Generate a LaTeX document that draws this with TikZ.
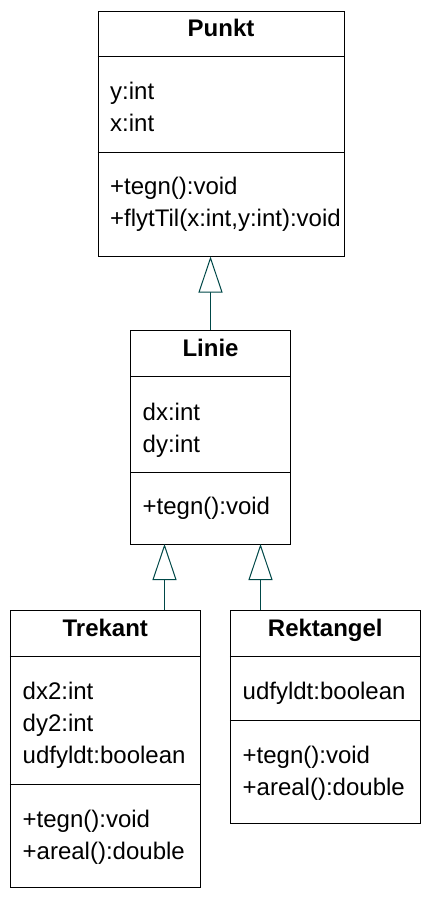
\documentclass[tikz,border=0pt]{standalone}
\usepackage{fontspec}
\setmainfont{Liberation Sans}
\usetikzlibrary{arrows.meta}
\definecolor{conn}{RGB}{0,72,72}
\begin{document}
\begin{tikzpicture}[x=1pt,y=-1pt,
  classbox/.style={draw=black, line width=1pt, inner sep=0pt},
  sepline/.style={draw=black, line width=1pt},
  title/.style={anchor=base, inner sep=0pt, font=\fontsize{24}{28}\selectfont\bfseries},
  member/.style={anchor=base west, inner sep=0pt, font=\fontsize{24}{28}\selectfont},
  inh/.style={draw=conn, line width=1pt, -{Triangle[open, length=36pt, width=24pt, fill=white]}}
]
\useasboundingbox (0,0) rectangle (432,900);
% Punkt
\node[classbox, minimum width=246pt, minimum height=245pt] (punkt) at (221,133.5) {};
\draw[sepline] (punkt.west |- 0,56) -- (punkt.east |- 0,56);
\draw[sepline] (punkt.west |- 0,152) -- (punkt.east |- 0,152);
\node[title] (punkttitle) at (221,36) {Punkt};
\node[member] (py) at (110,99) {y:int};
\node[member] (px) at (110,131) {x:int};
\node[member] (ptegn) at (110,194) {+tegn():void};
\node[member] (pflyt) at (110,226) {+flytTil(x:int,y:int):void};
% Linie
\node[classbox, minimum width=160pt, minimum height=214pt] (linie) at (210.5,437) {};
\draw[sepline] (linie.west |- 0,376) -- (linie.east |- 0,376);
\draw[sepline] (linie.west |- 0,472) -- (linie.east |- 0,472);
\node[title] (linietitle) at (210.5,356) {Linie};
\node[member] (ldx) at (142.5,420) {dx:int};
\node[member] (ldy) at (142.5,452) {dy:int};
\node[member] (ltegn) at (142.5,514) {+tegn():void};
% Trekant
\node[classbox, minimum width=190pt, minimum height=277pt] (trekant) at (105.3,749) {};
\draw[sepline] (trekant.west |- 0,656) -- (trekant.east |- 0,656);
\draw[sepline] (trekant.west |- 0,784) -- (trekant.east |- 0,784);
\node[title] (trekanttitle) at (105.3,636) {Trekant};
\node[member] (tdx) at (22.5,699) {dx2:int};
\node[member] (tdy) at (22.5,731) {dy2:int};
\node[member] (tudf) at (22.5,763) {udfyldt:boolean};
\node[member] (ttegn) at (22.5,827) {+tegn():void};
\node[member] (tareal) at (22.5,859) {+areal():double};
% Rektangel
\node[classbox, minimum width=190pt, minimum height=213pt] (rekt) at (325.3,717) {};
\draw[sepline] (rekt.west |- 0,656) -- (rekt.east |- 0,656);
\draw[sepline] (rekt.west |- 0,720) -- (rekt.east |- 0,720);
\node[title] (rekttitle) at (325.3,636) {Rektangel};
\node[member] (rudf) at (242.5,699) {udfyldt:boolean};
\node[member] (rtegn) at (242.5,763) {+tegn():void};
\node[member] (rareal) at (242.5,795) {+areal():double};
% connectors
\coordinate (lt) at (164.5,544);
\coordinate (lr) at (260.5,544);
\draw[inh] (linie.north) -- (linie.north |- punkt.south);
\draw[inh] (trekant.north -| lt) -- (lt);
\draw[inh] (rekt.north -| lr) -- (lr);
\end{tikzpicture}
\end{document}
